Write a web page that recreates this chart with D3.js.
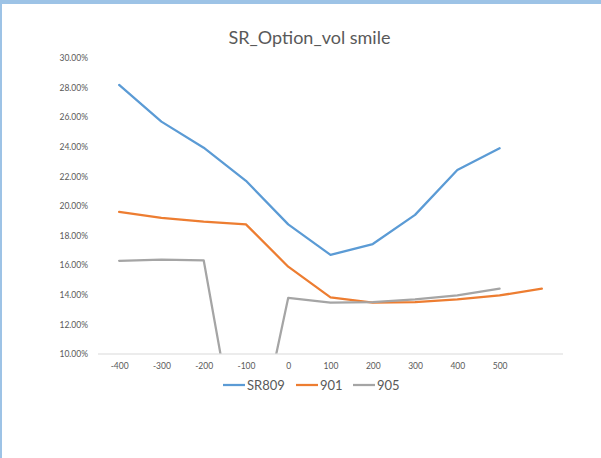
<!DOCTYPE html>
<html><head><meta charset="utf-8">
<script src="https://cdn.jsdelivr.net/npm/d3@7"></script>
<style>body{margin:0;background:#fff}svg{display:block}</style>
</head><body>
<svg id="c" width="601" height="458"></svg>
<script>
const categories = ["-400","-300","-200","-100","0","100","200","300","400","500",""];
const sr809 = [0.2818,0.2570,0.2394,0.2170,0.1876,0.1670,0.1743,0.1940,0.2243,0.2390,null];
const s901  = [0.1961,0.1920,0.1894,0.1876,0.1590,0.1383,0.1347,0.1350,0.1369,0.1396,0.1441];
const s905  = [0.1630,0.1637,0.1633,0.0040,0.1380,0.1347,0.1350,0.1369,0.1396,0.1441,null];
const yTicks = [0.10,0.12,0.14,0.16,0.18,0.20,0.22,0.24,0.26,0.28,0.30];
const seriesNames = ["SR809","901","905"];
const colors = ["#5b9bd5","#ed7d31","#a5a5a5"];

const svg = d3.select("#c");
const font = "Lato, 'Open Sans', sans-serif";
// window edges
svg.append("rect").attr("x",0).attr("y",0).attr("width",601).attr("height",4).attr("fill","#9dc3e6");
svg.append("rect").attr("x",0).attr("y",0).attr("width",2).attr("height",458).attr("fill","#9dc3e6");

const x = d3.scalePoint().domain(categories.map((c,i)=>i)).range([98,563]).padding(0.5);
const y = d3.scaleLinear().domain([0.10,0.30]).range([354,58]);

svg.append("text").attr("x",309.5).attr("y",43.5).attr("text-anchor","middle")
  .attr("font-family",font).attr("font-size",18).attr("fill","#595959").text("SR_Option_vol smile");

// y axis labels
const ya = svg.append("g").attr("transform","translate(88,0)")
  .call(d3.axisLeft(y).tickValues(yTicks).tickFormat(d3.format(".2%")).tickSize(0).tickPadding(0));
ya.select(".domain").remove();
ya.selectAll("text").attr("font-family",font).attr("font-size",8.5).attr("fill","#595959");

// x axis
const xa = svg.append("g").attr("transform","translate(0,354)")
  .call(d3.axisBottom(x).tickFormat(i=>categories[i]).tickSize(0).tickPadding(9));
xa.select(".domain").attr("stroke","#d9d9d9").attr("d","M98,0H563");
xa.selectAll("text").attr("font-family",font).attr("font-size",8.5).attr("fill","#595959");

svg.append("clipPath").attr("id","clip").append("rect")
  .attr("x",90).attr("y",50).attr("width",480).attr("height",303.5);

const line = d3.line().defined(d=>d!=null).x((d,i)=>x(i)).y(d=>y(d));
const plot = svg.append("g").attr("clip-path","url(#clip)");
[sr809,s901,s905].forEach((s,k)=>{
  plot.append("path").datum(s).attr("d",line).attr("fill","none")
    .attr("stroke",colors[k]).attr("stroke-width",2.25).attr("stroke-linejoin","round").attr("stroke-linecap","round");
});

// legend
const leg = [{x:223},{x:296},{x:353}];
seriesNames.forEach((n,k)=>{
  const g = svg.append("g");
  g.append("line").attr("x1",leg[k].x).attr("x2",leg[k].x+22).attr("y1",385).attr("y2",385)
    .attr("stroke",colors[k]).attr("stroke-width",2.25);
  g.append("text").attr("x",leg[k].x+24).attr("y",390).attr("font-family",font).attr("font-size",13)
    .attr("fill","#595959").text(n);
});
</script>
</body></html>
